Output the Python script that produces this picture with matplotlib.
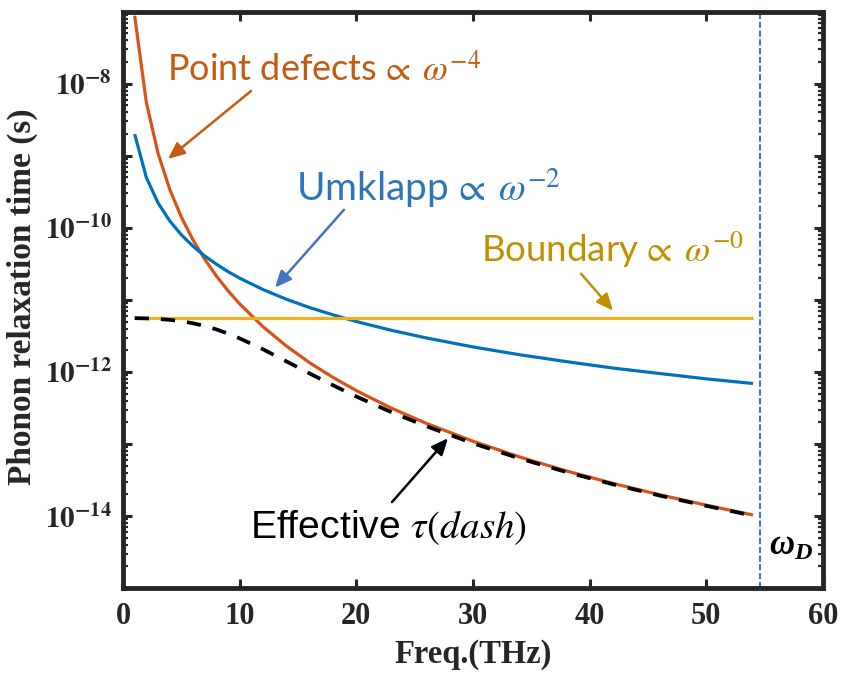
import matplotlib
matplotlib.use("Agg")
import matplotlib.pyplot as plt
from matplotlib.ticker import LogLocator, FuncFormatter, NullFormatter
import numpy as np

# ---------------- data ----------------
freq = [1, 2, 3, 4, 5, 6, 7, 8, 9, 10, 12, 14, 16, 18, 20, 23, 26, 30, 34, 38, 42, 46, 50, 54]
tau_umklapp = [2.0e-9, 5.0e-10, 2.22e-10, 1.25e-10, 8.0e-11, 5.56e-11, 4.08e-11, 3.13e-11,
               2.47e-11, 2.0e-11, 1.39e-11, 1.02e-11, 7.8e-12, 6.2e-12, 5.0e-12, 3.78e-12,
               2.96e-12, 2.22e-12, 1.73e-12, 1.39e-12, 1.13e-12, 9.5e-13, 8.0e-13, 6.9e-13]
tau_point = [8.8e-8, 5.5e-9, 1.09e-9, 3.44e-10, 1.41e-10, 6.79e-11, 3.67e-11, 2.15e-11,
             1.34e-11, 8.8e-12, 4.24e-12, 2.29e-12, 1.34e-12, 8.38e-13, 5.5e-13, 3.14e-13,
             1.93e-13, 1.09e-13, 6.59e-14, 4.22e-14, 2.83e-14, 1.97e-14, 1.41e-14, 1.03e-14]
tau_effective = [5.58e-12, 5.53e-12, 5.43e-12, 5.28e-12, 5.05e-12, 4.73e-12, 4.34e-12, 3.89e-12,
                 3.40e-12, 2.92e-12, 2.06e-12, 1.40e-12, 9.5e-13, 6.52e-13, 4.55e-13, 2.76e-13,
                 1.76e-13, 1.02e-13, 6.28e-14, 4.07e-14, 2.75e-14, 1.92e-14, 1.38e-14, 1.01e-14]
boundary_freq = [1, 54]
tau_boundary = [5.6e-12, 5.6e-12]
debye_freq = 54.6

x_ticks = [0, 10, 20, 30, 40, 50, 60]
x_tick_labels = ['0', '10', '20', '30', '40', '50', '60']
y_labelled_exponents = [-14, -12, -10, -8]

# ---------------- figure ----------------
plt.rcParams['font.family'] = 'Liberation Serif'
plt.rcParams['mathtext.fontset'] = 'stix'
plt.rcParams['mathtext.rm'] = 'Liberation Serif:bold'
plt.rcParams['mathtext.it'] = 'Liberation Serif:italic:bold'
plt.rcParams['mathtext.bf'] = 'Liberation Serif:bold'

fig = plt.figure(figsize=(8.43, 6.73), dpi=100)
fig.patch.set_facecolor('white')
ax = fig.add_axes([0.1459, 0.1263, 0.8304, 0.8563])

ax.plot(freq, tau_point, color='#D95319', lw=2.3, zorder=3, solid_capstyle='butt')
ax.plot(freq, tau_umklapp, color='#0072BD', lw=2.3, zorder=3, solid_capstyle='butt')
ax.plot(boundary_freq, tau_boundary, color='#EDB120', lw=2.3, zorder=4, solid_capstyle='butt')
ax.plot(freq, tau_effective, color='black', lw=2.7, dashes=(3.8, 3.2), zorder=5)
ax.axvline(debye_freq, color='#4472C4', lw=1.5, dashes=(3, 1.2), zorder=2)

ax.set_yscale('log')
ax.set_xlim(0, 60)
ax.set_ylim(1e-15, 1e-7)

dark = '#262626'
ax.set_xticks(x_ticks, x_tick_labels, fontweight='bold', fontsize=22, color=dark)
ax.yaxis.set_major_locator(LogLocator(base=10, numticks=30))
ax.yaxis.set_minor_locator(LogLocator(base=10, subs=np.arange(2, 10), numticks=30))
ax.yaxis.set_minor_formatter(NullFormatter())


def yfmt(v, pos):
    e = int(round(np.log10(v)))
    if e in y_labelled_exponents:
        return r"$\mathbf{10^{%d}}$" % e
    return ""


ax.yaxis.set_major_formatter(FuncFormatter(yfmt))

for sp in ax.spines.values():
    sp.set_linewidth(3.5)
    sp.set_color(dark)
ax.tick_params(which='both', direction='in', top=True, right=True, color=dark, labelcolor=dark)
ax.tick_params(which='major', length=6.5, width=2.2)
ax.tick_params(which='minor', length=3.5, width=1.6)
ax.tick_params(axis='x', pad=10)
ax.tick_params(axis='y', pad=8, labelsize=21)

fig.text(473 / 843, 1 - 663 / 673, 'Freq.(THz)', weight='bold',
         fontsize=23.5, ha='center', va='baseline', color=dark)
fig.text(22 / 843, 1 - 297 / 673, 'Phonon relaxation time (s)',
         weight='bold', fontsize=24, ha='center', va='center', rotation=90, color=dark)

fig.canvas.draw()


def fit_text(x, y, s, target_px, **kw):
    t = ax.text(x, y, s, fontsize=20, ha='left', va='baseline', weight='normal',
                math_fontfamily='stix', **kw)
    fig.canvas.draw()
    w = t.get_window_extent().width
    t.set_fontsize(20 * target_px / w)
    return t


fit_text(3.77, 1.09e-8, r"Point defects$\,\propto\;\omega^{-4}$", 314, color='#C55A11', family='Lato')
fit_text(14.83, 2.37e-10, r"Umklapp$\,\propto\;\omega^{-2}$", 265, color='#2E75B6', family='Lato')
fit_text(30.69, 3.39e-11, r"Boundary$\,\propto\;\omega^{-0}$", 263, color='#BF9000', family='Lato')
fit_text(10.89, 4.94e-15, r"Effective $\tau(dash)$", 278, color='black', family='Liberation Sans')

ax.text(55.4, 2.88e-15, r"$\omega_D$", fontsize=25, ha='left', va='baseline', color='black',
        math_fontfamily='custom')


def arrow(tail, head, c):
    ax.annotate('', xy=head, xytext=tail,
                arrowprops=dict(arrowstyle='-|>,head_length=0.5,head_width=0.22', lw=1.8,
                                color=c, shrinkA=0, shrinkB=0, mutation_scale=20), zorder=6)


arrow((10.97, 7.93e-9), (3.86, 9.06e-10), '#C55A11')
arrow((18.94, 1.78e-10), (13.03, 1.48e-11), '#4472C4')
arrow((39.26, 2.31e-11), (42.0, 7.1e-12), '#BF9000')
arrow((23.06, 1.56e-14), (27.86, 1.2e-13), 'black')

fig.savefig('out.png', dpi=100, facecolor='white')
